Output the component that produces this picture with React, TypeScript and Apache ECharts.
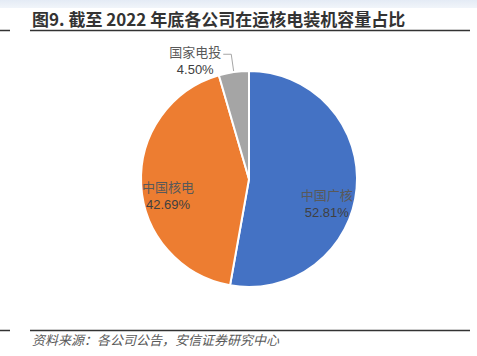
import React, { useEffect, useRef } from "react";
import * as echarts from "echarts";

const titleText = "图9. 截至 2022 年底各公司在运核电装机容量占比";
const sourceText = "资料来源：各公司公告，安信证券研究中心";
const names = ["中国广核", "中国核电", "国家电投"];
const values = [52.81, 42.69, 4.5];
const colors = ["#4472C4", "#ED7D31", "#A5A5A5"];

export default function App() {
  const ref = useRef<HTMLDivElement>(null);
  useEffect(() => {
    document.body.style.margin = "0";
    const chart = echarts.init(ref.current!, null, { renderer: "svg" });
    const cjk = '"Noto Sans CJK SC", sans-serif';
    const rich = {
      n: { fontFamily: cjk, fontSize: 13, color: "#595959", lineHeight: 18, width: 52, align: "center" },
      p: { fontFamily: '"Liberation Sans", Arial, sans-serif', fontSize: 13, color: "#404040", lineHeight: 18, width: 52, align: "center" },
    };
    const offsets = [[21, 19], [-24, 13]];
    const data = names.map((n, i) => {
      const d: any = { name: n, value: values[i], itemStyle: { color: colors[i] } };
      if (i < 2) {
        d.label = { position: "inside", offset: offsets[i] };
        d.labelLine = { show: false };
      } else {
        d.label = { position: "outside", padding: [12, 0, 0, 0], distanceToLabelLine: 2 };
        d.labelLine = { show: true, length: 18, length2: 8, lineStyle: { color: "#A6A6A6", width: 1 } };
      }
      return d;
    });
    chart.setOption({
      animation: false,
      graphic: [
        { type: "rect", shape: { x: 0, y: 0, width: 477, height: 8 }, style: { fill: new echarts.graphic.LinearGradient(0, 0, 0, 1, [{ offset: 0, color: "#E4EBF5" }, { offset: 1, color: "#F1F5FA" }]) } },
        { type: "text", x: 32, y: 18, style: { text: titleText, font: `bold 17px ${cjk}`, fill: "#333333", textVerticalAlign: "middle" } },
        { type: "line", shape: { x1: 30, y1: 30.5, x2: 470, y2: 30.5 }, style: { stroke: "#333333", lineWidth: 1.5 } },
        { type: "line", shape: { x1: 0, y1: 30.5, x2: 10, y2: 30.5 }, style: { stroke: "#333333", lineWidth: 1.5 } },
        { type: "line", shape: { x1: 30, y1: 330.5, x2: 470, y2: 330.5 }, style: { stroke: "#333333", lineWidth: 1.5 } },
        { type: "line", shape: { x1: 0, y1: 330.5, x2: 10, y2: 330.5 }, style: { stroke: "#333333", lineWidth: 1.5 } },
        { type: "text", x: 32, y: 339, style: { text: sourceText, font: `italic 13px ${cjk}`, fill: "#595959", textVerticalAlign: "middle" } },
      ],
      series: [
        {
          type: "pie",
          center: [249, 179],
          radius: 108,
          startAngle: 90,
          clockwise: true,
          avoidLabelOverlap: false,
          itemStyle: { borderColor: "#ffffff", borderWidth: 2 },
          label: {
            formatter: (p: any) => `{n|${p.name}}\n{p|${p.value.toFixed(2)}%}`,
            rich,
          },
          emphasis: { disabled: true },
          data,
        },
      ],
    });
    return () => chart.dispose();
  }, []);
  return <div ref={ref} style={{ width: 477, height: 356, position: "absolute", left: 0, top: 0 }} />;
}
